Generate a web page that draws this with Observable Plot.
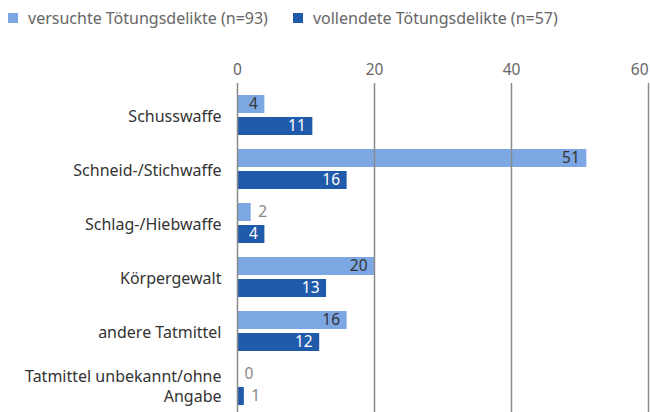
<!DOCTYPE html>
<html>
<head>
<meta charset="utf-8">
<script src="https://cdn.jsdelivr.net/npm/d3@7"></script>
<script src="https://cdn.jsdelivr.net/npm/@observablehq/plot@0.6"></script>
<style>
  body { margin: 0; background: #fff; font-family: "Noto Sans", sans-serif; }
  #legend { height: 36px; display: flex; align-items: center; font-size: 16px; color: #666; }
  .item { display: flex; align-items: center; }
  .sw { width: 10px; height: 10px; display: inline-block; margin-right: 10px; }
</style>
</head>
<body>
<div id="legend"></div>
<div id="chart"></div>
<script>
const categories = ["Schusswaffe", "Schneid-/Stichwaffe", "Schlag-/Hiebwaffe", "Körpergewalt", "andere Tatmittel", "Tatmittel unbekannt/ohne\nAngabe"];
const seriesNames = ["versuchte Tötungsdelikte (n=93)", "vollendete Tötungsdelikte (n=57)"];
const attempted = [4, 51, 2, 20, 16, 0];
const completed = [11, 16, 4, 13, 12, 1];
const xTicks = [0, 20, 40, 60];
const colors = ["#7da7e3", "#1f5baa"];

const legend = document.getElementById("legend");
legend.innerHTML = seriesNames.map((n, i) =>
  `<span class="item" style="margin-left:${i === 0 ? 8 : 25}px"><span class="sw" style="background:${colors[i]}"></span>${n}</span>`
).join("");

const a = categories.map((c, i) => ({cat: c, v: attempted[i]}));
const b = categories.map((c, i) => ({cat: c, v: completed[i]}));
const inside = d => d.v >= 3;
const outside = d => d.v < 3;
const lastTick = xTicks[xTicks.length - 1];

const chart = Plot.plot({
  width: 650,
  height: 376,
  marginLeft: 237,
  marginRight: 2,
  marginTop: 47,
  marginBottom: 0,
  style: {fontFamily: "Noto Sans, sans-serif", fontSize: "14px", background: "#fff"},
  x: {domain: [0, 60], axis: null},
  y: {domain: categories, range: [52, 376], padding: 0, axis: null},
  marks: [
    Plot.barX(a, {x: "v", y: "cat", fill: colors[0], insetTop: 7, insetBottom: 29}),
    Plot.barX(b, {x: "v", y: "cat", fill: colors[1], insetTop: 29, insetBottom: 7}),
    Plot.ruleX(xTicks, {stroke: "#8a8a8a", strokeWidth: 1.5}),
    Plot.text(xTicks.filter(t => t !== lastTick), {x: d => d, frameAnchor: "top", dy: -20, text: d => String(d), fill: "#666", fontSize: 15.5}),
    Plot.text([lastTick], {x: d => d, frameAnchor: "top", dy: -20, textAnchor: "end", text: d => String(d), fill: "#666", fontSize: 15.5}),
    Plot.text(a, {filter: inside, x: "v", y: "cat", dy: -11, dx: -7, textAnchor: "end", text: d => String(d.v), fill: "#333", fontSize: 15.5}),
    Plot.text(a, {filter: outside, x: "v", y: "cat", dy: -11, dx: 7, textAnchor: "start", text: d => String(d.v), fill: "#888", fontSize: 15.5}),
    Plot.text(b, {filter: inside, x: "v", y: "cat", dy: 11, dx: -7, textAnchor: "end", text: d => String(d.v), fill: "#fff", fontSize: 15.5}),
    Plot.text(b, {filter: outside, x: "v", y: "cat", dy: 11, dx: 7, textAnchor: "start", text: d => String(d.v), fill: "#888", fontSize: 15.5}),
    Plot.text(categories, {y: d => d, frameAnchor: "left", dx: -16, textAnchor: "end", text: d => d, fill: "#333", fontSize: 16, lineHeight: 1.25})
  ]
});
document.getElementById("chart").appendChild(chart);
</script>
</body>
</html>
